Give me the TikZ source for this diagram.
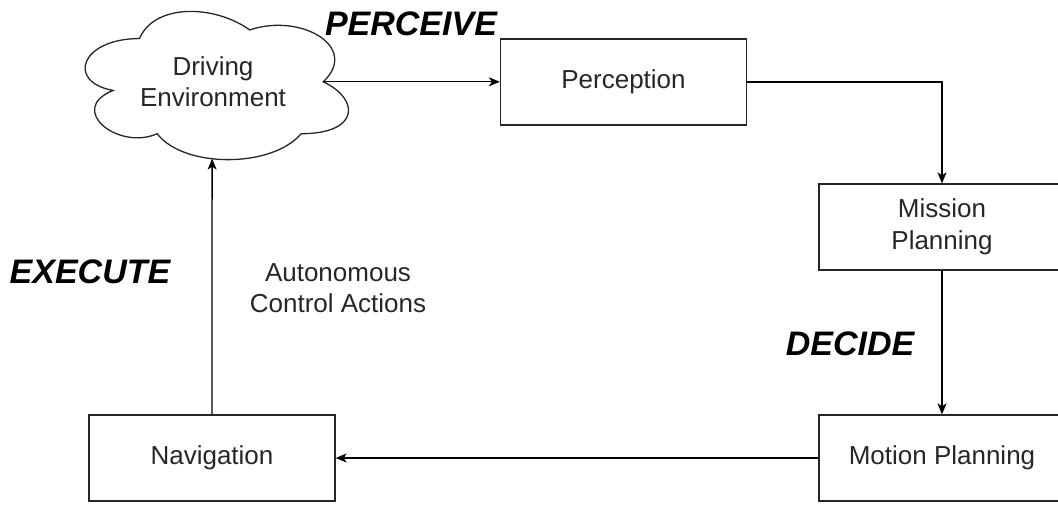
\documentclass[tikz,border=0pt]{standalone}
\usepackage{fontspec}
\setmainfont{Liberation Sans}
\usetikzlibrary{arrows.meta}
\definecolor{ink}{HTML}{262626}
\begin{document}
\begin{tikzpicture}[x=1pt,y=-1pt,
  line width=1.3pt,
  stage/.style={draw=ink, rectangle, minimum width=246pt, minimum height=86pt,
    inner sep=0pt, align=center, text=ink, font=\fontsize{26}{31.5}\selectfont},
  phase/.style={text=black, inner sep=0pt, font=\fontsize{34}{40}\selectfont\bfseries\itshape},
  note/.style={text=ink, align=center, inner sep=0pt, font=\fontsize{26}{31.5}\selectfont},
  arr/.style={draw=black, -{Stealth[length=11pt,width=9pt,inset=3pt]}}]
\useasboundingbox (0,0) rectangle (1058,504);

% cloud outline (driving environment), drawn in unit coordinates
\begin{scope}[shift={(66,-4.7)}, x=294pt, y=-173pt]
  \draw[ink] (0.25,0.25)
    .. controls (0.05,0.25) and (0,0.5) .. (0.16,0.55)
    .. controls (0,0.66) and (0.18,0.9) .. (0.31,0.8)
    .. controls (0.4,1) and (0.7,1) .. (0.8,0.8)
    .. controls (1,0.8) and (1,0.6) .. (0.875,0.5)
    .. controls (1,0.3) and (0.8,0.1) .. (0.625,0.2)
    .. controls (0.5,0.05) and (0.3,0.05) .. (0.25,0.25) -- cycle;
  \coordinate (envR) at (0.875,0.5);
  \coordinate (envB) at (0.497,0.944);
  \node[note] (env) at (0.5,0.5) {Driving\\Environment};
\end{scope}

% processing stages
\node[stage] (per) at (623.5,82) {Perception};
\node[stage] (mis) at (942,227) {Mission\\Planning};
\node[stage] (mot) at (942,458) {Motion Planning};
\node[stage] (nav) at (212,458) {Navigation};

% loop connectors
\draw[arr] (envR) -- (envR -| per.west);
\draw[arr] (per.east) -| (mis.north);
\draw[arr] (mis.south) -- (mot.north);
\draw[arr] (mot.west) -- (nav.east);
\draw[arr] (nav.north) -- (envB);

% phase labels
\node[phase] (perceive) at (411,24) {PERCEIVE};
\node[phase] (execute) at (90,272) {EXECUTE};
\node[phase] (decide) at (850,344) {DECIDE};
\node[note] (actions) at (338,288) {Autonomous\\Control Actions};
\end{tikzpicture}
\end{document}
